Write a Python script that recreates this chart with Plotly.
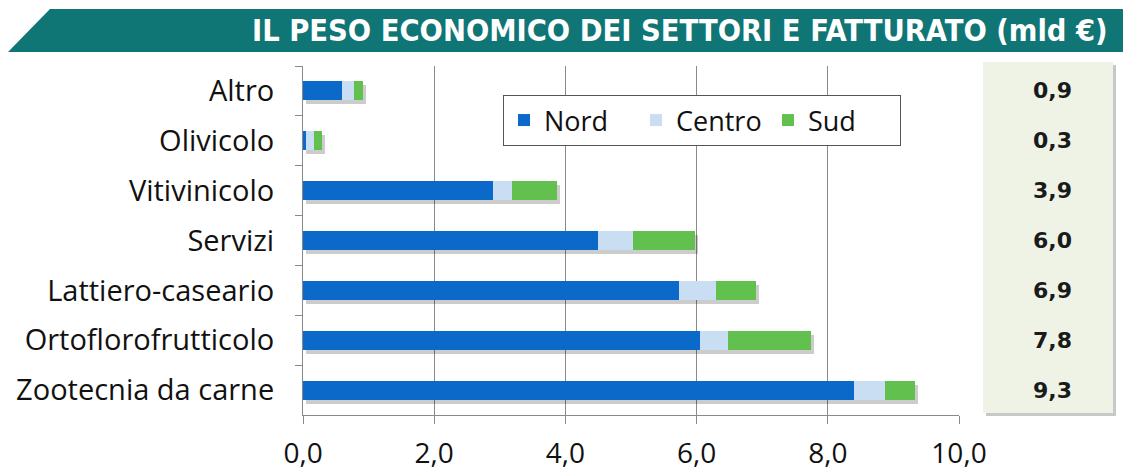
import plotly.graph_objects as go

categories = ["Altro", "Olivicolo", "Vitivinicolo", "Servizi",
              "Lattiero-caseario", "Ortoflorofrutticolo", "Zootecnia da carne"]
nord = [0.60, 0.04, 2.90, 4.50, 5.73, 6.05, 8.40]
centro = [0.18, 0.12, 0.29, 0.53, 0.57, 0.43, 0.47]
sud = [0.13, 0.13, 0.68, 0.95, 0.60, 1.27, 0.46]
totals = [0.9, 0.3, 3.9, 6.0, 6.9, 7.8, 9.3]
title_text = "IL PESO ECONOMICO DEI SETTORI E FATTURATO (mld €)"

W, H = 1123, 473
L, R, T, B = 303, 164, 66, 58
pw, ph = W - L - R, H - T - B

def px(x):
    return (x - L) / pw

def py(y):
    return (H - B - y) / ph

# shadow offsets in pixels, converted to axis units
sdx, sdy = 3, 4
xunit = 10 / pw
yunit = len(categories) / ph

fig = go.Figure()
stack_sum = [a + b + c for a, b, c in zip(nord, centro, sud)]
fig.add_trace(go.Bar(y=categories, x=stack_sum, orientation="h", showlegend=False,
                     hoverinfo="skip", marker=dict(color="rgba(0,0,0,0.2)", line=dict(width=0)),
                     xaxis="x", yaxis="y"))
for name, vals, col in [("Nord", nord, "#0a69c9"),
                        ("Centro", centro, "#c9def3"),
                        ("Sud", sud, "#62c04e")]:
    fig.add_trace(go.Bar(y=categories, x=vals, name=name, orientation="h",
                         marker=dict(color=col, line=dict(width=0)),
                         xaxis="x2", yaxis="y2"))

shapes = []
shapes.append(dict(type="rect", xref="paper", yref="paper",
                   x0=px(986), x1=px(1116), y0=py(416), y1=py(65),
                   fillcolor="#c8c8c8", line=dict(width=0), layer="below"))
shapes.append(dict(type="rect", xref="paper", yref="paper",
                   x0=px(983), x1=px(1113), y0=py(413), y1=py(62),
                   fillcolor="#eef3e5", line=dict(width=0), layer="below"))
shapes.append(dict(type="path", xref="paper", yref="paper",
                   path=f"M {px(8)},{py(52)} L {px(50)},{py(9)} L {px(1123)},{py(9)} L {px(1123)},{py(52)} Z",
                   fillcolor="#0f7575", line=dict(width=0)))

annotations = [dict(xref="paper", yref="paper", x=px(1110), y=py(31),
                    xanchor="right", yanchor="middle", showarrow=False,
                    text=f"<b>{title_text}</b>",
                    font=dict(family="DejaVu Sans Condensed", size=30.5, color="white"))]
for c, t in zip(categories, totals):
    annotations.append(dict(xref="paper", yref="y2", x=px(1052), y=c,
                            xanchor="center", yanchor="middle", showarrow=False,
                            text=f"<b>{t:.1f}</b>".replace(".", ","),
                            font=dict(family="DejaVu Sans", size=22, color="#1a1a1a")))

n = len(categories)
fig.update_layout(
    width=W, height=H, margin=dict(l=L, r=R, t=T, b=B, autoexpand=False),
    barmode="stack", bargap=0.62,
    paper_bgcolor="white", plot_bgcolor="white",
    separators=",.",
    font=dict(family="Open Sans", color="#111"),
    showlegend=True,
    legend=dict(orientation="h", x=px(503), y=py(95), xanchor="left", yanchor="top",
                bgcolor="white", bordercolor="#555", borderwidth=1,
                font=dict(size=27, family="Open Sans", color="#111"),
                entrywidth=87, entrywidthmode="pixels",
                traceorder="normal"),
    shapes=shapes, annotations=annotations,
    xaxis=dict(range=[-sdx * xunit, 10 - sdx * xunit], visible=False,
               showgrid=False, zeroline=False, automargin=False),
    yaxis=dict(range=[n - 0.5 - sdy * yunit, -0.5 - sdy * yunit], visible=False,
               showgrid=False, zeroline=False, automargin=False,
               type="category", categoryarray=categories, categoryorder="array"),
    xaxis2=dict(overlaying="x", anchor="y2", side="bottom",
                range=[0, 10], dtick=2, tickformat=".1f", automargin=False,
                showgrid=True, gridcolor="#8a8a8a", gridwidth=1,
                showline=True, linecolor="#8a8a8a", zeroline=False,
                ticks="outside", ticklen=8, tickcolor="#8a8a8a",
                ticklabelstandoff=5,
                tickfont=dict(size=28, family="Open Sans", color="#111")),
    yaxis2=dict(overlaying="y", anchor="x2", side="left",
                type="category", categoryarray=categories, categoryorder="array",
                range=[n - 0.5, -0.5], showgrid=False, automargin=False,
                showline=True, linecolor="#8a8a8a",
                ticks="outside", ticklen=7, tickcolor="#8a8a8a",
                tickson="boundaries", ticklabelstandoff=22,
                tickfont=dict(size=29, family="Open Sans", color="#111")),
)

fig.write_html("out.html")
